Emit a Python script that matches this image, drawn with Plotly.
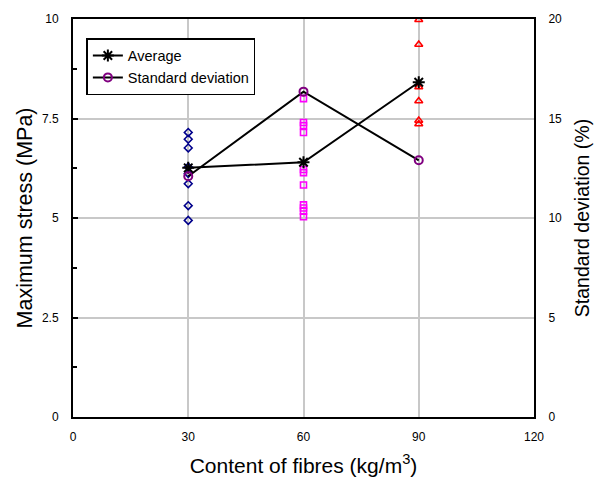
import plotly.graph_objects as go

content = [30, 60, 90]
average = [6.26, 6.40, 8.41]
std_dev = [12.1, 16.35, 12.9]

samples_30 = [7.15, 6.98, 6.76, 6.28, 6.12, 5.86, 5.31, 4.94]
samples_60 = [8.0, 7.40, 7.32, 7.15, 6.22, 6.14, 5.83, 5.33, 5.25, 5.17, 5.03]
samples_90 = [9.98, 9.36, 8.29, 7.94, 7.45, 7.36]

FONT = "Liberation Sans, Arial, sans-serif"

fig = go.Figure()

fig.add_trace(go.Scatter(x=[content[0]] * len(samples_30), y=samples_30, mode="markers",
                         marker=dict(symbol="diamond-open", size=6, color="#00008b", line=dict(width=1.6)),
                         showlegend=False))
fig.add_trace(go.Scatter(x=[content[1]] * len(samples_60), y=samples_60, mode="markers",
                         marker=dict(symbol="square-open", size=6, color="#ff00ff", line=dict(width=1.6)),
                         showlegend=False))
fig.add_trace(go.Scatter(x=[content[2]] * len(samples_90), y=samples_90, mode="markers",
                         marker=dict(symbol="triangle-up-open", size=7, color="#ff0000", line=dict(width=1.6)),
                         showlegend=False))

fig.add_trace(go.Scatter(x=content, y=average, mode="lines+markers", name="Average",
                         line=dict(color="black", width=2),
                         marker=dict(symbol="asterisk-open", size=10, color="black", line=dict(width=2, color="black"))))
fig.add_trace(go.Scatter(x=content, y=std_dev, mode="lines+markers", name="Standard deviation",
                         yaxis="y2",
                         line=dict(color="black", width=2),
                         marker=dict(symbol="circle-open", size=8, color="#800080", line=dict(width=2, color="#800080"))))

fig.update_layout(
    width=602, height=486,
    margin=dict(l=73, r=67, t=14, b=68),
    paper_bgcolor="white", plot_bgcolor="white",
    font=dict(family=FONT, color="black", size=12),
    xaxis=dict(range=[0, 120], tickvals=[0, 30, 60, 90, 120], showgrid=True, gridcolor="#c8c8c8", gridwidth=2,
               zeroline=False, showline=True, linecolor="black", linewidth=2, mirror=True,
               ticks="", ticklabelstandoff=8,
               title=dict(text="Content of fibres (kg/m<sup>3</sup>)", font=dict(size=21), standoff=15)),
    yaxis=dict(range=[0, 10], tickvals=[0, 2.5, 5, 7.5, 10], ticktext=["0", "2.5", "5", "7.5", "10"],
               showgrid=True, gridcolor="#c8c8c8", gridwidth=2,
               zeroline=False, showline=True, linecolor="black", linewidth=2,
               ticks="inside", ticklen=5, tickwidth=1.5, tickcolor="black", ticklabelstandoff=10,
               minor=dict(dtick=1.25, ticks="inside", ticklen=4, tickwidth=1.5, tickcolor="black", showgrid=False),
               title=dict(text="Maximum stress (MPa)", font=dict(size=21.5), standoff=3)),
    yaxis2=dict(range=[0, 20], tickvals=[0, 5, 10, 15, 20], overlaying="y", side="right",
                showgrid=False, zeroline=False, showline=True, linecolor="black", linewidth=2,
                ticks="", ticklabelstandoff=10,
                title=dict(text="Standard deviation (%)", font=dict(size=19.5), standoff=14)),
    legend=dict(x=0.029, y=0.952, xanchor="left", yanchor="top",
                bordercolor="black", borderwidth=1.5, bgcolor="white",
                font=dict(size=14.5), tracegroupgap=0, itemwidth=30),
    showlegend=True,
)

fig.write_html("out.html")
